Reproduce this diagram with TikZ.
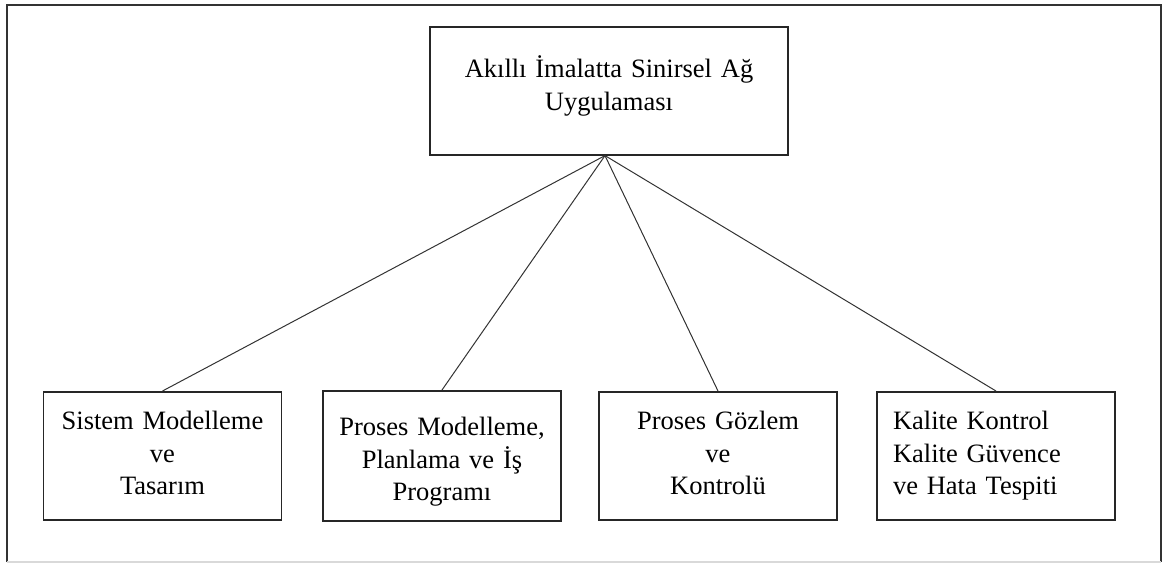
\documentclass[tikz,border=0pt]{standalone}
\usepackage{fontspec}
\setmainfont{Liberation Serif}
\usepackage{tikz}

\begin{document}
\begin{tikzpicture}[
  x=0.5pt, y=-0.5pt,
  topbox/.style={draw=black!85, line width=0.8pt, inner sep=0pt,
                 text width=179pt, align=center,
                 text height=25.5pt, text depth=38.5pt,
                 font=\fontsize{13.25}{16.25}\selectfont},
  subbox/.style={draw=black!85, line width=0.8pt, inner sep=0pt,
                 text width=119pt, align=center,
                 text height=19pt, text depth=45pt,
                 font=\fontsize{13.25}{16.25}\selectfont},
  conn/.style={black!80, line width=0.5pt}
]
\useasboundingbox (0,0) rectangle (1163,563);

% outer frame
\draw[black!80, line width=0.7pt] (7,562) -- (7,5) -- (1161,5) -- (1161,562);
\draw[black!15, line width=0.7pt] (7,562) -- (1161,562);

\node[topbox, anchor=north] (top) at (609,26)
  {Akıllı İmalatta Sinirsel Ağ\\Uygulaması};
\coordinate (apex) at ([xshift=-2pt]top.south);

\node[subbox, anchor=north] (b1) at (162.5,391)
  {Sistem Modelleme\\ve\\Tasarım};
\node[subbox, anchor=north, text height=22.5pt, text depth=42.5pt] (b2) at (442,390)
  {Proses Modelleme,\\Planlama ve İş\\Programı};
\node[subbox, anchor=north] (b3) at (718,391)
  {Proses Gözlem\\ve\\Kontrolü};
\node[subbox, anchor=north, align=left, inner xsep=8pt, text width=103pt] (b4) at (996,391)
  {Kalite Kontrol\\Kalite Güvence\\ve Hata Tespiti};

\foreach \idx in {1,...,4}
  \draw[conn] (apex) -- (b\idx.north);

\end{tikzpicture}
\end{document}
